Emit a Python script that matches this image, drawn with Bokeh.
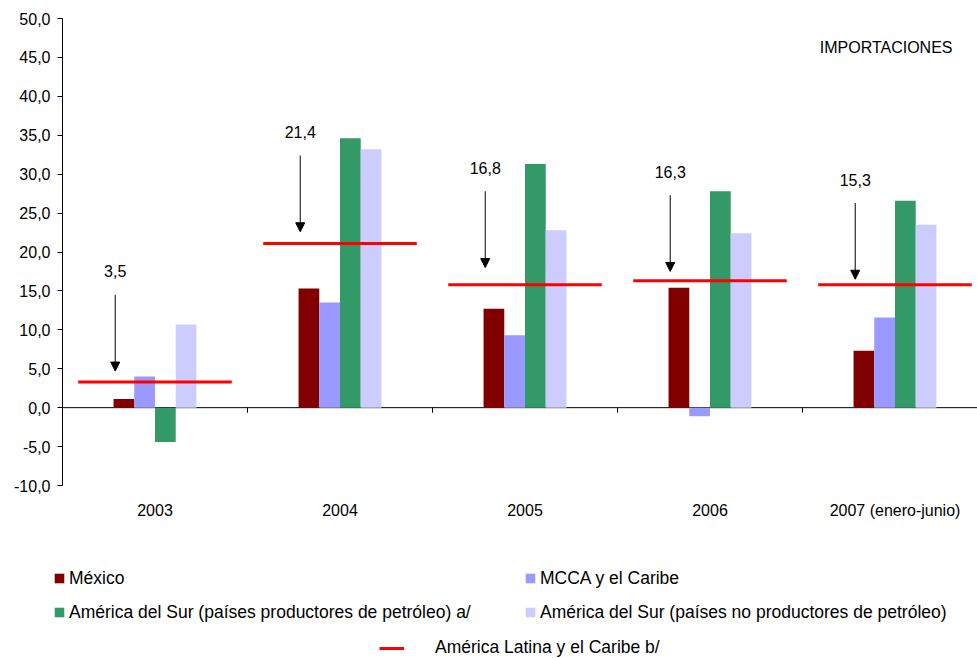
from bokeh.plotting import figure
from bokeh.models import (Range1d, FixedTicker, Legend, LegendItem, Arrow,
                          NormalHead, ColumnDataSource)
from bokeh.embed import file_html
from bokeh.resources import INLINE
from bokeh.core.properties import value

# ---------------- data ----------------
categories = ["2003", "2004", "2005", "2006", "2007 (enero-junio)"]
series_names = ["México", "MCCA y el Caribe",
                "América del Sur (países productores de petróleo) a/",
                "América del Sur (países no productores de petróleo)"]
mexico = [1.1, 15.3, 12.7, 15.4, 7.3]
mcca = [4.0, 13.5, 9.3, -1.1, 11.6]
sur_prod = [-4.4, 34.6, 31.3, 27.8, 26.6]
sur_noprod = [10.7, 33.2, 22.8, 22.4, 23.5]
series_colors = ["#800000", "#9999FF", "#339966", "#CCCCFF"]

latam_name = "América Latina y el Caribe b/"
latam = [3.3, 21.1, 15.8, 16.3, 15.8]
latam_label_values = [3.5, 21.4, 16.8, 16.3, 15.3]
latam_labels = ["3,5", "21,4", "16,8", "16,3", "15,3"]

y_ticks = [-10, -5, 0, 5, 10, 15, 20, 25, 30, 35, 40, 45, 50]
y_tick_labels = ["-10,0", "-5,0", "0,0", "5,0", "10,0", "15,0", "20,0",
                 "25,0", "30,0", "35,0", "40,0", "45,0", "50,0"]
panel_title = "IMPORTACIONES"

FONT = "Liberation Sans"
FS = "16px"
LFS = "17.5px"

W, H = 977, 658
n = len(categories)
centers = [i + 0.5 for i in range(n)]
bar_w = 0.112

# frame covers whole canvas; axes are placed at fixed locations
cat_px = 185.0            # pixels per category
axis_px = 62.0            # y axis position
ymin, ymax = y_ticks[0], y_ticks[-1]
k = 467.0 / (ymax - ymin)  # pixels per unit
top_px, bot_px = 18.0, 485.0
x_range = Range1d(-axis_px / cat_px, (W - axis_px) / cat_px)
y_range = Range1d(ymin - (H - bot_px) / k, ymax + top_px / k)

p = figure(width=W, height=H, output_backend="svg", toolbar_location=None,
           x_range=x_range, y_range=y_range,
           min_border_left=0, min_border_right=0, min_border_top=0,
           min_border_bottom=0, outline_line_color=None)
p.xgrid.visible = False
p.ygrid.visible = False

# y axis
ya = p.yaxis[0]
ya.fixed_location = 0
ya.bounds = (ymin, ymax)
ya.ticker = FixedTicker(ticks=y_ticks, minor_ticks=[])
ya.major_label_overrides = {t: l for t, l in zip(y_ticks, y_tick_labels)}
ya.major_tick_out = 5
ya.major_tick_in = 0
ya.minor_tick_out = 0
ya.minor_tick_in = 0
ya.axis_line_color = "black"
ya.major_tick_line_color = "black"
ya.major_label_text_font = FONT
ya.major_label_text_font_size = FS
ya.major_label_text_color = "black"
ya.major_label_standoff = 7

# x axis: labels only, under the bottom of the value scale
xa = p.xaxis[0]
xa.fixed_location = ymin
xa.ticker = FixedTicker(ticks=centers, minor_ticks=[])
xa.major_label_overrides = {c: l for c, l in zip(centers, categories)}
xa.axis_line_color = None
xa.major_tick_line_color = None
xa.minor_tick_line_color = None
xa.major_label_text_font = FONT
xa.major_label_text_font_size = FS
xa.major_label_text_color = "black"
xa.major_label_standoff = 10

# zero line with category boundary ticks
bounds = list(range(n + 1))
p.segment(x0=[0], x1=[x_range.end], y0=[0], y1=[0], line_color="black", line_width=1)
p.segment(x0=bounds, x1=bounds, y0=[0] * len(bounds), y1=[-5 / k] * len(bounds),
          line_color="black", line_width=1)

# bars
renderers = []
for kk, (vals, col) in enumerate(zip([mexico, mcca, sur_prod, sur_noprod], series_colors)):
    off = (kk - 1.5) * bar_w
    r = p.vbar(x=[c + off for c in centers], top=vals, bottom=0, width=bar_w,
               fill_color=col, line_color=None)
    renderers.append(r)

# red lines
half = 0.415
rl = p.segment(x0=[c - half for c in centers], x1=[c + half for c in centers],
               y0=latam, y1=latam, line_color="#FF0000", line_width=3)

# arrows and labels
ax = [c - 0.215 for c in centers]
asrc = ColumnDataSource(dict(xs=ax, ys=[v + 11.0 for v in latam_label_values],
                             ye=[v + 1.2 for v in latam_label_values]))
p.add_layout(Arrow(end=NormalHead(size=9, fill_color="black", line_color="black"),
                   x_start="xs", y_start="ys", x_end="xs", y_end="ye",
                   source=asrc, line_color="black", line_width=1))
p.text(x=ax, y=[v + 14.0 for v in latam_label_values], text=latam_labels,
       text_font=value(FONT), text_font_size=FS, text_align="center",
       text_baseline="middle", text_color="black")

p.text(x=[(952 - axis_px) / cat_px], y=[46.3], text=[panel_title], text_font=value(FONT),
       text_font_size=FS, text_align="right", text_baseline="middle",
       text_color="black")

# legends (column-major fill: left column first)
order = [0, 2, 1, 3]
leg1 = Legend(items=[LegendItem(label=series_names[i], renderers=[renderers[i]]) for i in order],
              ncols=2, location=(53, 29), glyph_width=12, glyph_height=12,
              label_standoff=4, label_width=455, label_height=34, spacing=0,
              padding=0, margin=0, border_line_color=None, background_fill_alpha=0,
              label_text_font=FONT, label_text_font_size=LFS, label_text_color="black")
leg2 = Legend(items=[LegendItem(label=latam_name, renderers=[rl])],
              location=(379, 0), glyph_width=25, glyph_height=12,
              label_standoff=31, label_height=18, spacing=0,
              padding=0, margin=0, border_line_color=None, background_fill_alpha=0,
              label_text_font=FONT, label_text_font_size=LFS, label_text_color="black")
p.add_layout(leg1)
p.add_layout(leg2)

open("out.html", "w").write(file_html(p, INLINE))
